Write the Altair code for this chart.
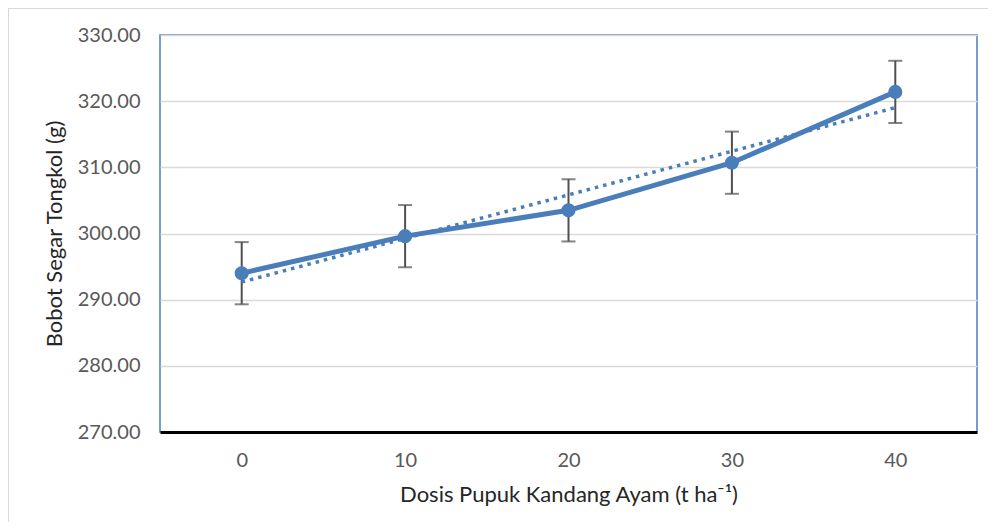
import altair as alt
import pandas as pd

dose = [0, 10, 20, 30, 40]
weight = [294.0, 299.6, 303.5, 310.7, 321.4]
err = [4.7, 4.7, 4.7, 4.7, 4.7]
y_ticks = [270, 280, 290, 300, 310, 320, 330]

df = pd.DataFrame({
    "dose": dose,
    "weight": weight,
    "lo": [w - e for w, e in zip(weight, err)],
    "hi": [w + e for w, e in zip(weight, err)],
})

BLUE = "#4a7ebb"
FONT = "Lato"
W, H = 817, 397

x_scale = alt.Scale(domain=[-5, 45], nice=False, zero=False)
y_scale = alt.Scale(domain=[270, 330], nice=False, zero=False)

x_enc = alt.X("dose:Q", scale=x_scale,
              axis=alt.Axis(values=dose, title="Dosis Pupuk Kandang Ayam (t ha⁻¹)",
                            grid=False, ticks=False, domain=True,
                            domainColor="black", domainWidth=3,
                            labelPadding=18, titlePadding=14, zindex=2))
y_enc = alt.Y("weight:Q", scale=y_scale,
              axis=alt.Axis(values=y_ticks, format=".2f", title="Bobot Segar Tongkol (g)",
                            grid=True, gridColor="#d9d9d9", gridWidth=1.5,
                            ticks=False, domain=False, labelPadding=20,
                            titlePadding=11))

base = alt.Chart(df)

errbars = base.mark_errorbar(ticks={"size": 14, "thickness": 2}, thickness=2,
                             color="#505050").encode(
    x=alt.X("dose:Q", scale=x_scale),
    y=alt.Y("lo:Q", scale=y_scale, title="Bobot Segar Tongkol (g)"),
    y2="hi:Q",
)

trend = base.transform_regression("dose", "weight").mark_line(
    color=BLUE, strokeWidth=3.5, strokeDash=[3.5, 5]
).encode(x="dose:Q", y=alt.Y("weight:Q", scale=y_scale))

line = base.mark_line(color=BLUE, strokeWidth=5).encode(x=x_enc, y=y_enc)
points = base.mark_circle(color=BLUE, size=200, opacity=1).encode(x="dose:Q", y="weight:Q")

border_top = base.mark_rule(color="#d9d9d9", strokeWidth=2).encode(
    x=alt.value(-152), x2=alt.value(W + 11), y=alt.value(-27))
border_left = base.mark_rule(color="#d9d9d9", strokeWidth=2).encode(
    x=alt.value(-152), y=alt.value(-27), y2=alt.value(H + 90))

chart = alt.layer(line, errbars, trend, points, border_top, border_left).properties(
    width=W, height=H,
    background="white",
    autosize=alt.AutoSizeParams(type="none"),
    padding={"left": 152, "top": 27, "right": 11, "bottom": 90},
).configure_view(
    stroke=BLUE, strokeWidth=1.5
).configure_axis(
    labelFont=FONT, titleFont=FONT, labelFontSize=20, titleFontSize=22,
    labelColor="#595959", titleColor="#262626", titleFontWeight="normal",
)

chart.save("out.html", embed_options={"renderer": "svg", "actions": False})
